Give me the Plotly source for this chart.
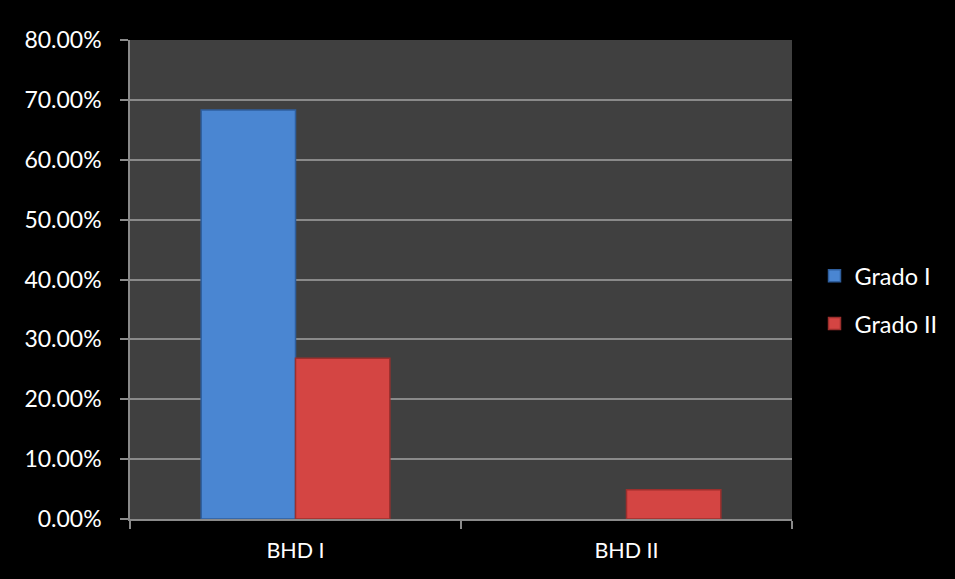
import plotly.graph_objects as go

# Categories and the share of each grade per category
categories = ["BHD I", "BHD II"]
grado_i = [0.6829, 0.0]
grado_ii = [0.2683, 0.0488]
series_names = ["Grado I", "Grado II"]

FONT = "Lato"

fig = go.Figure()
fig.add_trace(go.Bar(
    x=categories, y=grado_i, name=series_names[0], legendgroup="g1",
    marker=dict(color="#4a86d2", line=dict(color="#2f5f9e", width=[1.5, 0])),
))
fig.add_trace(go.Bar(
    x=categories, y=grado_ii, name=series_names[1], legendgroup="g2",
    marker=dict(color="#d44543", line=dict(color="#9c2f2d", width=1.5)),
))

fig.update_layout(
    width=955, height=579,
    margin=dict(l=130, r=163, t=40, b=60),
    paper_bgcolor="#000000",
    plot_bgcolor="#404040",
    barmode="group",
    bargap=0.43,
    bargroupgap=0,
    font=dict(family=FONT, size=21, color="#ffffff"),
    showlegend=True,
    legend=dict(
        x=1.034, xanchor="left", y=0.457, yanchor="middle",
        bgcolor="rgba(0,0,0,0)", font=dict(family=FONT, size=23.5, color="#ffffff"),
        tracegroupgap=14, itemwidth=30,
    ),
)

fig.update_yaxes(
    range=[0, 0.8], dtick=0.1, tickformat=".2%",
    showgrid=True, gridcolor="#8a8a8a", gridwidth=1.5,
    showline=True, linecolor="#8a8a8a", linewidth=1.5,
    ticks="outside", ticklen=8, tickcolor="#8a8a8a", tickwidth=1.5,
    ticklabelstandoff=14, zeroline=False,
    tickfont=dict(family=FONT, size=23, color="#ffffff"),
)
fig.update_xaxes(
    showgrid=False,
    showline=True, linecolor="#8a8a8a", linewidth=1.5,
    ticks="outside", ticklen=8, tickcolor="#8a8a8a", tickwidth=1.5,
    tickson="boundaries", ticklabelstandoff=11,
    tickfont=dict(family=FONT, size=21.5, color="#ffffff"),
)

fig.write_html("out.html")
